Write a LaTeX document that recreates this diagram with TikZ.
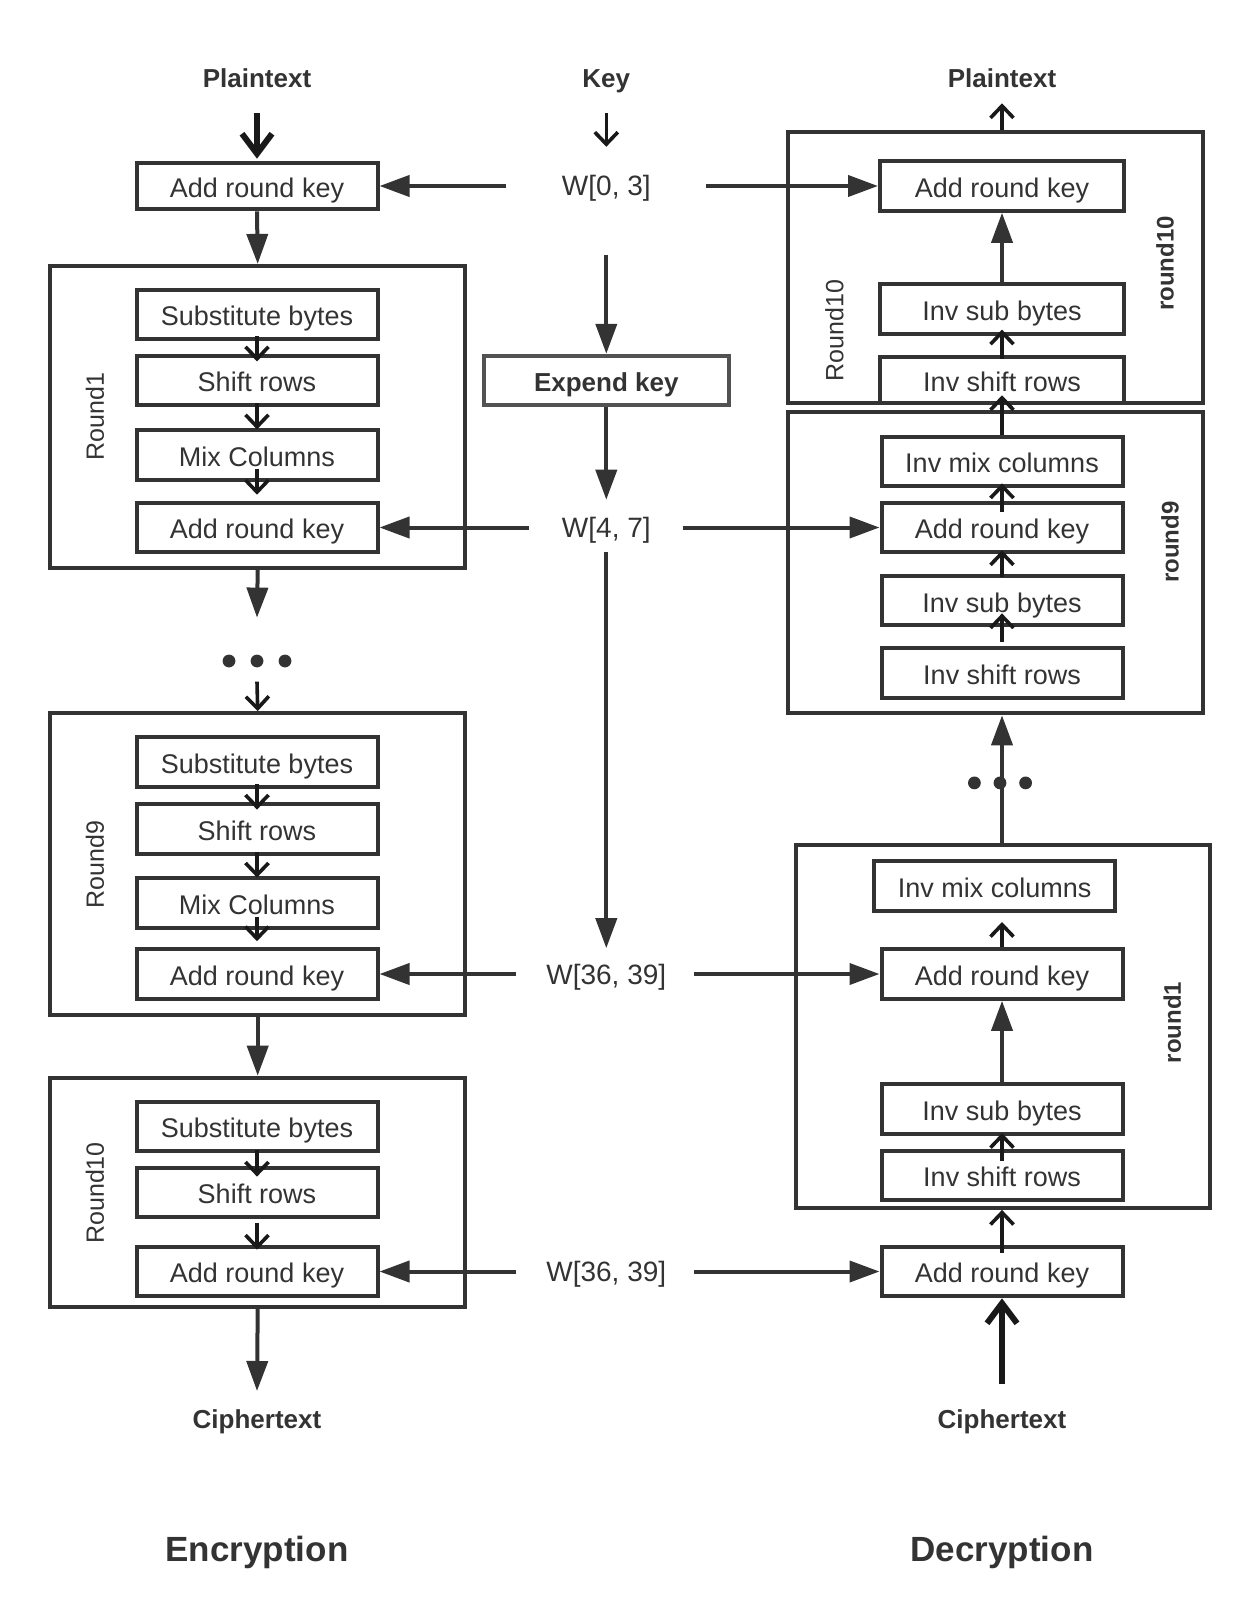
\documentclass[tikz,border=0pt]{standalone}
\usepackage{fontspec}
\setmainfont{Liberation Sans}
\usetikzlibrary{arrows.meta}
\definecolor{ink}{HTML}{333333}

\begin{document}
\begin{tikzpicture}[x=0.5pt,y=-0.5pt,
  stage/.style={draw=ink, line width=2pt, minimum width=120.5pt, minimum height=24.8pt,
    inner sep=0pt, text=ink, text height=11.9pt, text depth=0.5pt,
    font=\fontsize{13.5}{16}\selectfont},
  roundbox/.style={draw=ink, line width=2pt, inner sep=0pt, minimum width=207.5pt},
  title/.style={text=ink, inner sep=0pt, text height=9.5pt, text depth=0pt,
    font=\bfseries\fontsize{13}{16}\selectfont},
  heading/.style={text=ink, inner sep=0pt, text height=12.7pt, text depth=0pt,
    font=\bfseries\fontsize{17.5}{20}\selectfont},
  wlabel/.style={text=ink, inner sep=0pt, text height=10pt, text depth=0pt,
    font=\fontsize{14}{16}\selectfont},
  rlabel/.style={rotate=90, text=ink, inner sep=0pt, font=\fontsize{12.5}{15}\selectfont},
  rlabelb/.style={rotate=90, text=ink, inner sep=0pt, font=\bfseries\fontsize{12}{15}\selectfont},
  flow/.style={draw=ink, line width=2pt, -{Triangle[length=15pt,width=10.5pt]}},
  hop/.style={draw=black!90, line width=1.8pt, -{Straight Barb[length=6pt,width=11.5pt]}},
  heavy/.style={draw=black!90, line width=3pt, -{Straight Barb[length=10pt,width=15pt]}},
  dot/.style={fill=ink}
]
\useasboundingbox (0,0) rectangle (1259,1620);

% ---------------- Encryption ----------------
\node[title] (ptE) at (257,78.5) {Plaintext};
\node[stage, minimum height=23.3pt] (ark0) at (257,186) {Add round key};

\node[roundbox, minimum height=150.8pt] (r1) at (257.7,416.7) {};
\node[stage] (sb1) at (257,314.5) {Substitute bytes};
\node[stage] (sr1) at (257,380.6) {Shift rows};
\node[stage] (mc1) at (257,455) {Mix Columns};
\node[stage] (ark1) at (257,527.5) {Add round key};
\node[rlabel] (lr1) at (95,416.5) {Round1};

\coordinate (e1tip) at (257,617.6);
\coordinate (edots) at (257,661);
\coordinate (e2tail) at (257,681.6);

\node[roundbox, minimum height=150.8pt] (r9) at (257.7,863.9) {};
\node[stage] (sb9) at (257,762.2) {Substitute bytes};
\node[stage] (sr9) at (257,828.8) {Shift rows};
\node[stage] (mc9) at (257,903.2) {Mix Columns};
\node[stage] (ark9) at (257,974) {Add round key};
\node[rlabel] (lr9) at (95,864.5) {Round9};

\node[roundbox, minimum height=114.7pt] (r10) at (257.7,1192.4) {};
\node[stage] (sb10) at (257,1126.3) {Substitute bytes};
\node[stage] (sr10) at (257,1192.4) {Shift rows};
\node[stage] (ark10) at (257,1271.5) {Add round key};
\node[rlabel] (lr10) at (95,1192.9) {Round10};

\coordinate (e3tip) at (257,1391);
\node[title] (ctE) at (257,1419) {Ciphertext};
\node[heading] (encT) at (257,1549) {Encryption};

\draw[heavy, shorten <=12.4pt, shorten >=1pt] (ptE) -- (ark0.north);
\draw[flow] (ark0.south) -- (r1.north);
\draw[hop] ([yshift=2.4pt]sb1.south) -- ([yshift=-3.8pt]sr1.north);
\draw[hop] ([yshift=2pt]sr1.south) -- ([yshift=-0.6pt]mc1.north);
\draw[hop] ([yshift=6.6pt]mc1.south) -- ([yshift=3pt]ark1.north);
\draw[flow] (r1.south) -- (e1tip);
\foreach \dx in {-28,0,28} \fill[dot] (edots) ++(\dx,0) circle[radius=3.2pt];
\draw[hop] (e2tail) -- (r9.north);
\draw[hop] ([yshift=2.4pt]sb9.south) -- ([yshift=-3.8pt]sr9.north);
\draw[hop] ([yshift=2pt]sr9.south) -- ([yshift=-0.6pt]mc9.north);
\draw[hop] ([yshift=6.6pt]mc9.south) -- ([yshift=3pt]ark9.north);
\draw[flow] (r9.south) -- (r10.north);
\draw[hop] ([yshift=1.5pt]sb10.south) -- ([yshift=-5.5pt]sr10.north);
\draw[hop] ([yshift=-2pt]sr10.south) -- ([yshift=-2.5pt]ark10.north);
\draw[flow] (r10.south) -- (e3tip);

% ---------------- Key schedule ----------------
\node[title] (key) at (606.3,78.5) {Key};
\node[wlabel] (w03) at (606.3,186) {W[0, 3]};
\node[draw=ink!85, line width=2pt, minimum width=122.5pt, minimum height=24.8pt, inner sep=0pt,
      text=ink, text height=11.2pt, text depth=0.5pt,
      font=\bfseries\fontsize{13}{16}\selectfont] (ek) at (606.3,380.6) {Expend key};
\node[wlabel] (w47) at (606.3,527.5) {W[4, 7]};
\node[wlabel] (w36a) at (606.3,974) {W[36, 39]};
\node[wlabel] (w36b) at (606.3,1271.5) {W[36, 39]};

\draw[hop, shorten <=17.5pt, shorten >=19.6pt] (key.center) -- (w03.center);
\draw[flow, shorten <=34.5pt] (w03.center) -- (ek.north);
\draw[flow, shorten >=13.9pt] (ek.south) -- (w47.center);
\draw[flow, shorten <=12.4pt, shorten >=12.9pt] (w47.center) -- (w36a.center);

% ---------------- Decryption ----------------
\node[title] (ptD) at (1002,78.5) {Plaintext};

\node[roundbox, minimum height=135.8pt] (r10d) at (995.1,267.5) {};
\node[stage, minimum width=122pt] (dark10) at (1002,186) {Add round key};
\node[stage, minimum width=122pt] (disb10) at (1002,308.8) {Inv sub bytes};
\node[stage, minimum width=122pt, minimum height=23.3pt] (disr10) at (1002,380) {Inv shift rows};
\node[rlabel] (lr10d) at (834.5,330.5) {Round10};
\node[rlabelb] (lr10e) at (1165,263.4) {round10};

\node[roundbox, minimum height=150.4pt] (r9d) at (995.1,562.9) {};
\node[stage] (dimc9) at (1002,461.6) {Inv mix columns};
\node[stage] (dark9) at (1002,527.5) {Add round key};
\node[stage] (disb9) at (1002,600.6) {Inv sub bytes};
\node[stage] (disr9) at (1002,672.9) {Inv shift rows};
\node[rlabelb] (lr9e) at (1170,542.2) {round9};

\coordinate (ddots) at (1000,782.9);

\node[roundbox, minimum width=207pt, minimum height=181.3pt] (r1d) at (1002.9,1026.6) {};
\node[stage] (dimc1) at (994.6,886.2) {Inv mix columns};
\node[stage] (dark1) at (1002,974) {Add round key};
\node[stage] (disb1) at (1002,1109.2) {Inv sub bytes};
\node[stage] (disr1) at (1002,1175.3) {Inv shift rows};
\node[rlabelb] (lr1e) at (1172.2,1022.5) {round1};

\node[stage] (darkf) at (1002,1271.5) {Add round key};
\node[title] (ctD) at (1002,1419) {Ciphertext};
\node[heading] (decT) at (1002,1549) {Decryption};

\draw[hop, shorten >=12.4pt] (dark10.north |- r10d.north) -- (ptD.center);
\draw[flow] (disb10.north) -- (dark10.south);
\draw[hop] ([yshift=-2pt]disr10.north) -- ([yshift=3pt]disb10.south);
\draw[hop] (dimc9.north) -- ([yshift=5pt]disr10.south);
\draw[hop] ([yshift=-5.5pt]dark9.north) -- ([yshift=2.5pt]dimc9.south);
\draw[hop] ([yshift=-1.5pt]disb9.north) -- ([yshift=2pt]dark9.south);
\draw[hop] ([yshift=2pt]disr9.north) -- ([yshift=7pt]disb9.south);
\draw[flow] (disr9.south |- r1d.north) -- (disr9.south |- r9d.south);
\foreach \dx in {-25.6,0,25.6} \fill[dot] (ddots) ++(\dx,0) circle[radius=3.2pt];
\draw[hop, shorten >=4.5pt] (dark1.north) -- (dark1.north |- dimc1.south);
\draw[flow] (disb1.north) -- (dark1.south);
\draw[hop] ([yshift=-6pt]disr1.north) -- ([yshift=1.5pt]disb1.south);
\draw[hop, shorten <=-4pt] (darkf.north) -- (darkf.north |- r1d.south);
\draw[heavy, shorten <=17.5pt] (ctD.center) -- (darkf.south);

% ---------------- Round keys into both sides ----------------
\draw[flow, shorten <=50pt] (w03.center) -- (ark0.east);
\draw[flow, shorten <=50pt] (w03.center) -- (dark10.west);
\draw[flow, shorten <=38.75pt] (w47.center) -- (ark1.east);
\draw[flow, shorten <=38.2pt] (w47.center) -- (dark9.west);
\draw[flow, shorten <=45pt] (w36a.center) -- (ark9.east);
\draw[flow, shorten <=43.9pt] (w36a.center) -- (dark1.west);
\draw[flow, shorten <=45pt] (w36b.center) -- (ark10.east);
\draw[flow, shorten <=43.9pt] (w36b.center) -- (darkf.west);
\end{tikzpicture}
\end{document}
